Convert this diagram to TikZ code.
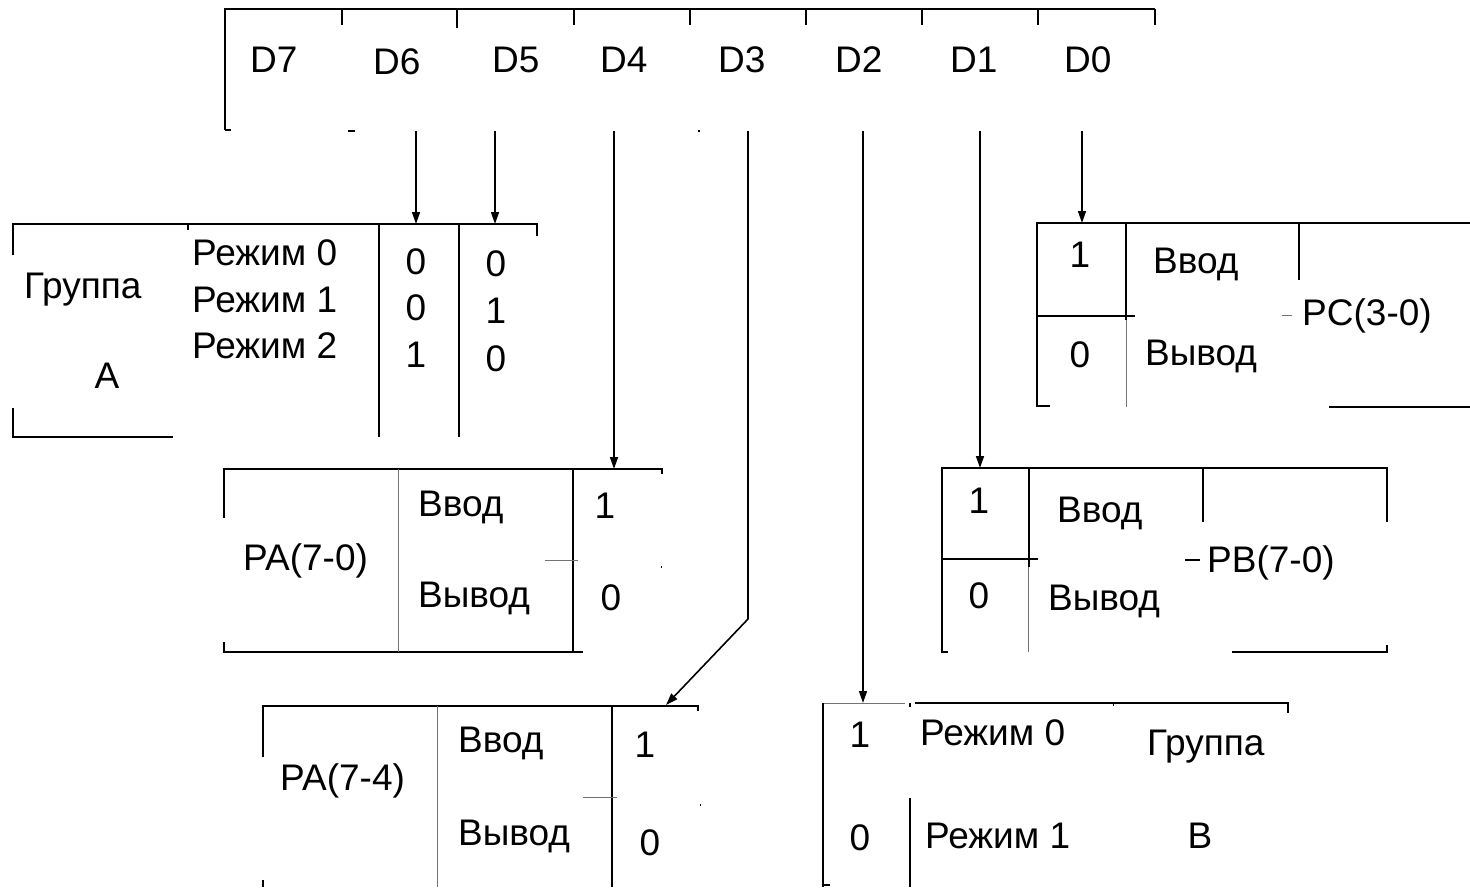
\documentclass[tikz,border=0pt]{standalone}
\usepackage{fontspec}
\setmainfont{Liberation Sans}
\usetikzlibrary{arrows.meta}
\begin{document}
\begin{tikzpicture}[x=1pt,y=-1pt,
  line/.style={line width=1.6pt,black},
  thin/.style={line width=1pt,black!55},
  conn/.style={line width=1.6pt,black,-{Triangle[length=12pt,width=8pt]}},
  lbl/.style={inner sep=0pt,font=\fontsize{37}{41}\selectfont,anchor=base},
  lbw/.style={lbl,anchor=base west}]
\useasboundingbox (0,0) rectangle (1470,887);

% ---------- control word D7..D0 ----------
\draw[line] (225,130) -- (225,9) -- (1155,9);
\foreach \x in {342,574,690,806,922,1038,1155} \draw[line] (\x,9) -- (\x,25);
\draw[line] (457,9) -- (457,28);
\draw[line] (225,130) -- (231,130);
\draw[line] (348,131) -- (355,131);
\draw[line] (698,131) -- (699.5,131);
\node[lbw] (d7) at (250,72) {D7};
\node[lbw] (d6) at (373,74) {D6};
\node[lbw] (d5) at (492,72) {D5};
\node[lbw] (d4) at (600,72) {D4};
\node[lbw] (d3) at (718,72) {D3};
\node[lbw] (d2) at (835,72) {D2};
\node[lbw] (d1) at (950,72) {D1};
\node[lbw] (d0) at (1064,72) {D0};

% bit line start points under the word
\coordinate (s6) at (416,131);
\coordinate (s5) at (495,131);
\coordinate (s4) at (614,131);
\coordinate (s3) at (748,131);
\coordinate (s2) at (863,131);
\coordinate (s1) at (980,131);
\coordinate (s0) at (1082,131);

% ---------- group A mode ----------
\draw[line] (13,255) -- (13,224) -- (537,224) -- (537,236);
\draw[line] (188,224) -- (188,230);
\draw[line] (13,408) -- (13,437) -- (173,437);
\draw[line] (379,224) -- (379,437);
\draw[line] (459,224) -- (459,437);
\coordinate (t6) at (416,224);
\coordinate (t5) at (495,224);
\node[lbw] (grA) at (24,298) {Группа};
\node[lbl] (grAl) at (107,388) {A};
\node[lbw] (mA0) at (192,265) {Режим 0};
\node[lbw] (mA1) at (192,312) {Режим 1};
\node[lbw] (mA2) at (192,358) {Режим 2};
\node[lbl] (a60) at (416,274) {0};
\node[lbl] (a61) at (416,320) {0};
\node[lbl] (a62) at (416,367) {1};
\node[lbl] (a50) at (496,276) {0};
\node[lbl] (a51) at (496,323) {1};
\node[lbl] (a52) at (496,371) {0};

% ---------- port A (7-0) ----------
\draw[line] (224,518) -- (224,469) -- (662,469) -- (662,474);
\draw[line] (224,642) -- (224,652) -- (583,652);
\draw[thin] (398,469) -- (398,652);
\draw[line] (573,469) -- (573,652);
\draw[thin] (545,560) -- (578,560);
\draw[line] (661,567) -- (662,567);
\coordinate (t4) at (614,469);
\node[lbw] (pa) at (243,570) {PA(7-0)};
\node[lbw] (pain) at (418,516) {Ввод};
\node[lbw] (paout) at (418,607) {Вывод};
\node[lbl] (pa1) at (605,518) {1};
\node[lbl] (pa0) at (611,610) {0};

% ---------- port A (7-4) ----------
\draw[line] (263,757) -- (263,706) -- (698,706) -- (698,711);
\draw[line] (263,880) -- (263,887);
\draw[thin] (437,706) -- (437,887);
\draw[line] (612,706) -- (612,887);
\draw[thin] (583,797) -- (617,797);
\draw[line] (700,805) -- (701,805);
\coordinate (b3) at (748,619);
\coordinate (t3) at (666,705);
\node[lbw] (pc74) at (280,790) {PA(7-4)};
\node[lbw] (pc74in) at (458,752) {Ввод};
\node[lbw] (pc74out) at (458,845) {Вывод};
\node[lbl] (pc741) at (645,757) {1};
\node[lbl] (pc740) at (650,855) {0};

% ---------- port C (3-0) ----------
\draw[line] (1050,406) -- (1037,406) -- (1037,223) -- (1470,223);
\draw[line] (1126,223) -- (1126,320);
\draw[thin] (1126,320) -- (1126,407);
\draw[line] (1299,223) -- (1299,280);
\draw[line] (1037,316) -- (1135,316);
\draw[thin] (1282,315) -- (1292,315);
\draw[line] (1329,407) -- (1470,407);
\coordinate (t0) at (1082,223);
\node[lbl] (pc1) at (1080,267) {1};
\node[lbw] (pcin) at (1153,273) {Ввод};
\node[lbw] (pcl) at (1302,325) {PC(3-0)};
\node[lbl] (pc0) at (1080,367) {0};
\node[lbw] (pcout) at (1145,365) {Вывод};

% ---------- port B (7-0) ----------
\draw[line] (948,652) -- (942,652) -- (942,468) -- (1387,468) -- (1387,522);
\draw[line] (1029,468) -- (1029,567);
\draw[thin] (1028,567) -- (1028,652);
\draw[line] (1203,468) -- (1203,522);
\draw[line] (942,559) -- (1038,559);
\draw[line] (1185,560) -- (1200,560);
\draw[line] (1232,652) -- (1387,652) -- (1387,645);
\coordinate (t1) at (980,468);
\node[lbl] (pb1) at (979,513) {1};
\node[lbw] (pbin) at (1057,522) {Ввод};
\node[lbw] (pbl) at (1207,572) {PB(7-0)};
\node[lbl] (pb0) at (979,608) {0};
\node[lbw] (pbout) at (1048,610) {Вывод};

% ---------- group B mode ----------
\draw[thin] (823,703) -- (905,703);
\draw[line] (910,703) -- (910,707);
\draw[line] (915,703) -- (1288,703) -- (1288,713);
\draw[line] (830,885) -- (823,885);
\draw[line] (823,703) -- (823,887);
\draw[line] (910,798) -- (910,887);
\draw[line] (1113,705) -- (1114,705);
\coordinate (t2) at (863,703);
\node[lbl] (gb1) at (860,747) {1};
\node[lbw] (gbm0) at (920,745) {Режим 0};
\node[lbw] (grB) at (1147,755) {Группа};
\node[lbl] (gb0) at (860,850) {0};
\node[lbw] (gbm1) at (925,848) {Режим 1};
\node[lbl] (grBl) at (1200,848) {B};

% ---------- bit connectors ----------
\draw[conn] (s6) -- (t6);
\draw[conn] (s5) -- (t5);
\draw[conn] (s4) -- (t4);
\draw[conn] (s3) -- (b3) -- (t3);
\draw[conn] (s2) -- (t2);
\draw[conn] (s1) -- (t1);
\draw[conn] (s0) -- (t0);
\end{tikzpicture}
\end{document}
